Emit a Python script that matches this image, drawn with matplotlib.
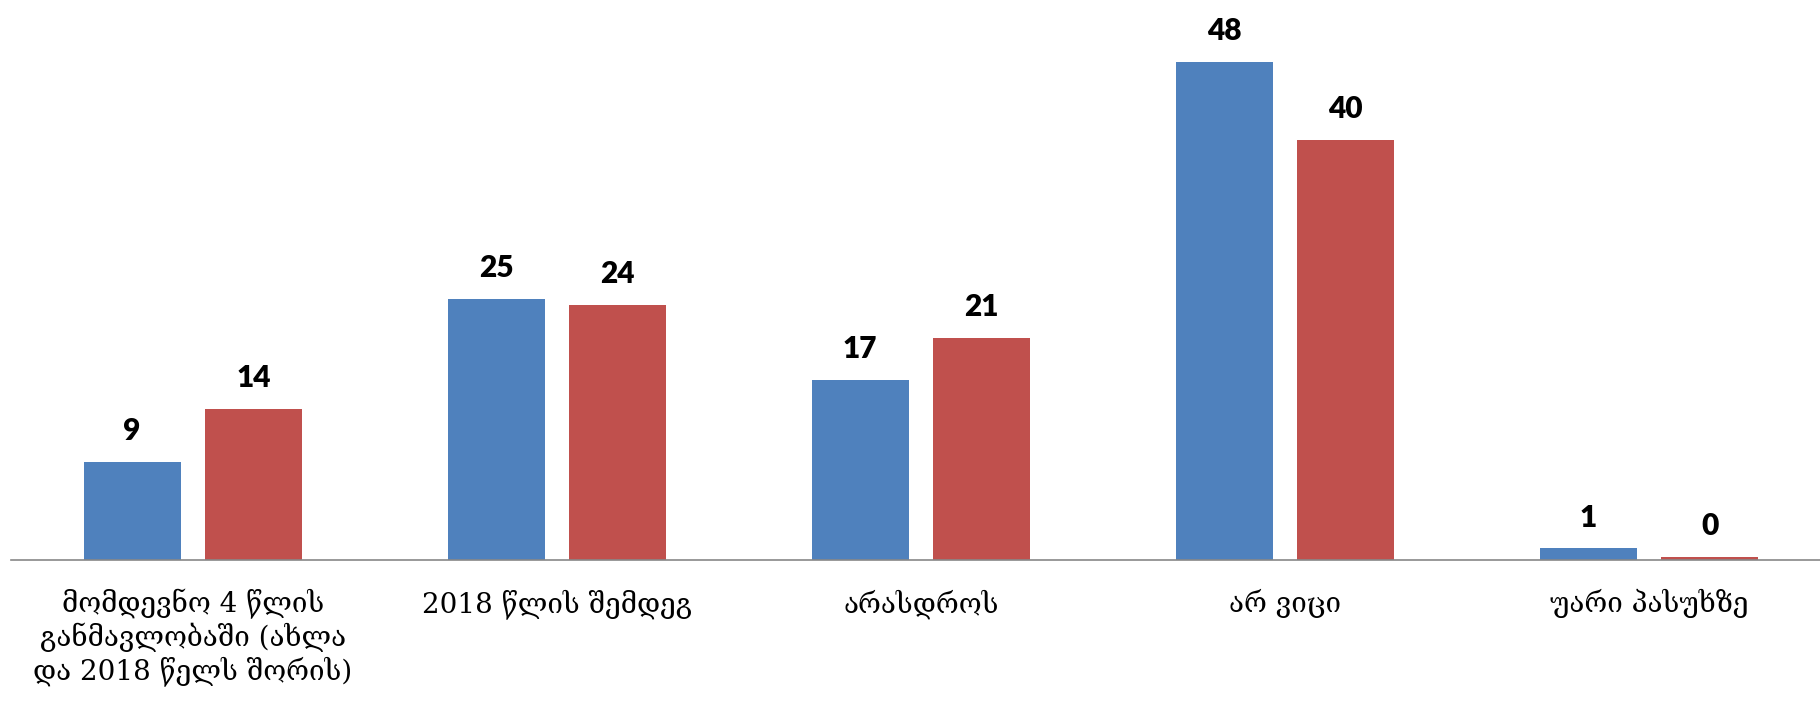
import matplotlib.pyplot as plt
import numpy as np

categories = ['მომდევნო 4 წლის\nგანმავლობაში (ახლა\nდა 2018 წელს შორის)',
              '2018 წლის შემდეგ', 'არასდროს', 'არ ვიცი', 'უარი პასუხზე']
series_a = [9.4, 24.9, 17.2, 47.6, 1.1]
series_b = [14.4, 24.4, 21.2, 40.1, 0.3]
colors = ['#4F81BD', '#C0504D']

fig = plt.figure(figsize=(18.2, 7.21), dpi=100)
ax = fig.add_axes([0.006, 0.2233, 0.994, 0.7767])

x = np.arange(len(categories))
width = 0.267
offset = 0.167
for vals, off, color in zip([series_a, series_b], [-offset, offset], colors):
    bars = ax.bar(x + off, vals, width, color=color, edgecolor='none')
    for b, v in zip(bars, vals):
        ax.annotate(f'{v:.0f}', (b.get_x() + b.get_width() / 2, v),
                    xytext=(0, 15.8), textcoords='offset points',
                    ha='center', va='baseline', fontsize=21.5,
                    fontweight='heavy', family='Lato')

ax.set_xlim(-0.5, 4.47)
ax.set_ylim(0, 53.5)
ax.set_xticks(x)
ax.set_xticklabels(categories, fontsize=20, family='DejaVu Serif', linespacing=1.15)
ax.tick_params(axis='x', length=0, pad=21)
ax.set_yticks([])
for s in ['top', 'right', 'left']:
    ax.spines[s].set_visible(False)
ax.spines['bottom'].set_color('#888888')
ax.spines['bottom'].set_linewidth(1.2)

fig.savefig('out.png')
